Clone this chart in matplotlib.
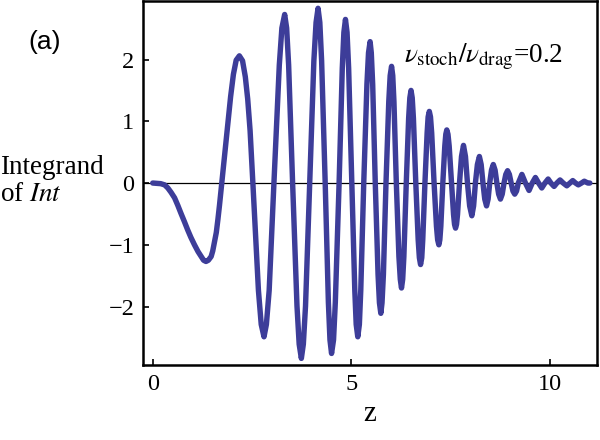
import matplotlib
matplotlib.use("Agg")
import matplotlib.pyplot as plt

# values (z, integrand)
z_vals = [
    0.0, 0.2, 0.3, 0.38, 0.46, 0.55, 0.63, 0.71, 0.8, 0.88, 0.96, 1.05,
    1.14, 1.22, 1.28, 1.34, 1.40, 1.47, 1.51, 1.55, 1.60, 1.64, 1.68,
    1.72, 1.74,
    1.82, 1.89, 1.96, 2.03, 2.10, 2.18, 2.26, 2.33, 2.39, 2.45, 2.52,
    2.66, 2.73, 2.80, 2.86, 2.93, 3.05,
    3.185, 3.25, 3.32, 3.37, 3.42, 3.52,
    3.63, 3.685, 3.74, 3.79, 3.845, 3.95,
    4.055, 4.11, 4.16, 4.205, 4.25, 4.34,
    4.42, 4.46, 4.50, 4.55, 4.595, 4.69,
    4.77, 4.81, 4.85, 4.89, 4.93, 5.01,
    5.085, 5.12, 5.16, 5.20, 5.235, 5.31,
    5.39, 5.43, 5.47, 5.50, 5.535, 5.60,
    5.67, 5.705, 5.74, 5.77, 5.805, 5.87,
    5.94, 5.975, 6.01, 6.04, 6.07, 6.13,
    6.195, 6.23, 6.26, 6.29, 6.32, 6.38,
    6.44, 6.47, 6.50, 6.53, 6.56, 6.62,
    6.68, 6.71, 6.74, 6.77, 6.795, 6.85,
    6.905, 6.93, 6.96, 6.99, 7.02, 7.08,
    7.14, 7.17, 7.20, 7.225, 7.25, 7.30,
    7.35, 7.375, 7.40, 7.43, 7.46, 7.52,
    7.57, 7.595, 7.62, 7.645, 7.67, 7.72,
    7.77, 7.82, 7.87, 7.92,
    7.975, 8.03, 8.075, 8.12,
    8.17, 8.22, 8.265, 8.31,
    8.355, 8.40, 8.44, 8.48,
    8.525, 8.57, 8.615, 8.66,
    8.705, 8.75, 8.795, 8.84,
    8.885, 8.93, 8.975, 9.02,
    9.065, 9.11, 9.155, 9.20,
    9.29, 9.38, 9.47, 9.55, 9.63, 9.71, 9.79, 9.87, 9.95, 10.02,
    10.10, 10.17, 10.25, 10.33, 10.42, 10.50, 10.57, 10.64, 10.71,
    10.79, 10.86, 10.95, 11.0,
]
integrand = [
    0.0, -0.01, -0.03, -0.08, -0.15, -0.24, -0.36, -0.49, -0.63, -0.76,
    -0.88, -1.0, -1.11, -1.19, -1.25, -1.27, -1.25, -1.19, -1.10, -0.97,
    -0.80, -0.59, -0.36, -0.11, 0.0,
    0.52, 0.97, 1.40, 1.76, 1.99, 2.06, 1.98, 1.72, 1.36, 0.85, 0.0,
    -1.74, -2.29, -2.49, -2.29, -1.74, 0.0,
    1.91, 2.51, 2.73, 2.51, 1.91, 0.0,
    -1.99, -2.61, -2.84, -2.61, -1.99, 0.0,
    1.98, 2.60, 2.83, 2.60, 1.98, 0.0,
    -1.93, -2.54, -2.76, -2.54, -1.93, 0.0,
    1.86, 2.44, 2.65, 2.44, 1.86, 0.0,
    -1.74, -2.29, -2.49, -2.29, -1.74, 0.0,
    1.60, 2.11, 2.29, 2.11, 1.60, 0.0,
    -1.48, -1.94, -2.11, -1.94, -1.48, 0.0,
    1.32, 1.74, 1.89, 1.74, 1.32, 0.0,
    -1.19, -1.56, -1.70, -1.56, -1.19, 0.0,
    1.05, 1.38, 1.50, 1.38, 1.05, 0.0,
    -0.92, -1.21, -1.32, -1.21, -0.92, 0.0,
    0.81, 1.07, 1.16, 1.07, 0.81, 0.0,
    -0.70, -0.92, -1.00, -0.92, -0.70, 0.0,
    0.60, 0.79, 0.86, 0.79, 0.60, 0.0,
    -0.51, -0.67, -0.73, -0.67, -0.51, 0.0,
    0.43, 0.61, 0.43, 0.0,
    -0.37, -0.53, -0.37, 0.0,
    0.30, 0.43, 0.30, 0.0,
    -0.26, -0.37, -0.26, 0.0,
    0.21, 0.30, 0.21, 0.0,
    -0.18, -0.26, -0.18, 0.0,
    0.14, 0.20, 0.14, 0.0,
    -0.13, -0.18, -0.13, 0.0,
    0.14, 0.0, -0.12, 0.0, 0.09, 0.0, -0.08, 0.0, 0.065, 0.0,
    -0.055, 0.0, 0.05, 0.0, -0.045, 0.0, 0.04, 0.0, -0.03,
    0.0, 0.03, 0.0, 0.0,
]
x_ticks = [0, 5, 10]
y_ticks = [-2, -1, 0, 1, 2]
y_tick_labels = ['\u22122', '\u22121', '0', '1', '2']

plt.rcParams['font.family'] = ['Liberation Serif', 'DejaVu Serif']
plt.rcParams['mathtext.fontset'] = 'stix'

fig = plt.figure(figsize=(6, 4.4), dpi=100)
ax = fig.add_axes([0.238, 0.17, 0.757, 0.828])

ax.axhline(0, color='black', lw=0.9, zorder=1)
ax.plot(z_vals, integrand, color='#3d3d99', lw=3.9,
        solid_joinstyle='round', solid_capstyle='round', zorder=2)

ax.set_xlim(-0.25, 11.18)
ax.set_ylim(-2.95, 2.95)
ax.set_xticks(x_ticks)
ax.set_yticks(y_ticks)
ax.set_yticklabels(y_tick_labels)
ax.tick_params(direction='in', length=4, width=1.2, labelsize=17.5, pad=6)
for s in ax.spines.values():
    s.set_linewidth(1.8)

ax.set_xlabel('z', fontsize=21, labelpad=5)
fig.text(0.0, 1 - 181 / 440, 'Integrand\nof $\\mathit{Int}$', fontsize=19.5,
         ha='left', va='center', linespacing=1.1)

fig.text(0.074, 0.905, '(a)', fontsize=19, ha='center', va='center',
         family='Liberation Sans')

ax.text(6.33, 2.04, r'$\nu_{\rm stoch}/\nu_{\rm drag}$=0.2', fontsize=19.5,
        ha='left', va='center')

fig.savefig('out.png', dpi=100)
